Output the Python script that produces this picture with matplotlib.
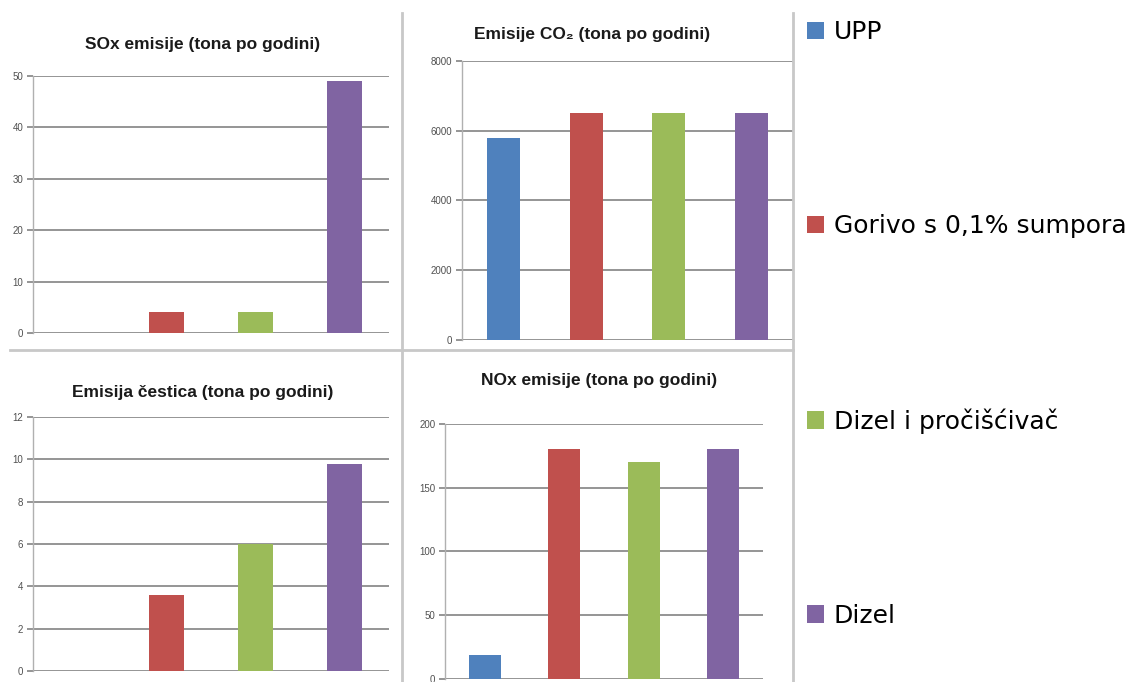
"""
Emission comparison: LNG vs low-sulphur fuel vs diesel with scrubber vs diesel.
Four small bar panels sharing one legend on the right.
"""

import matplotlib

matplotlib.use("Agg")
import matplotlib.pyplot as plt
from matplotlib.lines import Line2D

FONT = ["Liberation Sans Narrow", "Liberation Sans", "DejaVu Sans"]
plt.rcParams["font.family"] = FONT

# categories shared by all four panels
categories = ["UPP", "Gorivo s 0,1% sumpora", "Dizel i pročišćivač", "Dizel"]
colors = ["#4F81BD", "#C0504D", "#9BBB59", "#8064A2"]

# values (tona po godini)
sox_values = [0, 4, 4, 49]
co2_values = [5800, 6500, 6500, 6500]
particle_values = [0, 3.6, 6.0, 9.8]
nox_values = [19, 180, 170, 180]

panels = [
    # title, values, yticks, axes rect, title position
    ("SOx emisije (tona po godini)", sox_values, [0, 10, 20, 30, 40, 50],
     [0.029, 0.5117, 0.3130, 0.3769], (0.178, 0.935)),
    ("Emisije CO\u2082 (tona po godini)", co2_values, [0, 2000, 4000, 6000, 8000],
     [0.406, 0.5015, 0.2908, 0.4091], (0.52, 0.950)),
    ("Emisija čestica (tona po godini)", particle_values, [0, 2, 4, 6, 8, 10, 12],
     [0.029, 0.0161, 0.3130, 0.3725], (0.178, 0.424)),
    ("NOx emisije (tona po godini)", nox_values, [0, 50, 100, 150, 200],
     [0.391, 0.0044, 0.2795, 0.3739], (0.526, 0.442)),
]

GRID = "#8c8c8c"
BORDER = "#c8c8c8"

fig = plt.figure(figsize=(11.38, 6.82), dpi=100)

legend_bars = None
for title, values, yticks, rect, title_pos in panels:
    ax = fig.add_axes(rect)
    x = list(range(len(categories)))
    bars = ax.bar(x, values, width=0.4, color=colors, zorder=3)
    if title.startswith("Emisije CO"):
        legend_bars = bars

    ax.set_xlim(-0.5, len(categories) - 0.5)
    ax.set_ylim(yticks[0], yticks[-1])
    ax.set_yticks(yticks)
    ax.set_xticks([])
    ax.yaxis.grid(True, color=GRID, linewidth=1.3, zorder=0)
    ax.tick_params(axis="y", length=4, width=1.3, color=GRID,
                   labelsize=7, labelcolor="#505050", pad=3)
    for side in ("top", "right", "bottom"):
        ax.spines[side].set_visible(False)
    ax.spines["left"].set_color("#b0b0b0")
    ax.spines["left"].set_linewidth(1.0)

    fig.text(title_pos[0], title_pos[1], title, ha="center", va="center",
             fontsize=12.5, fontweight="bold", color="#1a1a1a")

# frame lines between the panels
fig.add_artist(Line2D([0.009, 0.697], [0.487, 0.487], color=BORDER, linewidth=2))
fig.add_artist(Line2D([0.353, 0.353], [0.0, 0.981], color=BORDER, linewidth=2))
fig.add_artist(Line2D([0.697, 0.697], [0.0, 0.981], color=BORDER, linewidth=2))

fig.legend(
    legend_bars.patches,
    categories,
    loc="upper left",
    bbox_to_anchor=(0.700, 0.985),
    frameon=False,
    prop={"family": "DejaVu Sans", "size": 18},
    handlelength=0.68,
    handleheight=0.68,
    handletextpad=0.4,
    labelspacing=6.8,
    borderaxespad=0,
)

fig.savefig("out.png", dpi=100)
